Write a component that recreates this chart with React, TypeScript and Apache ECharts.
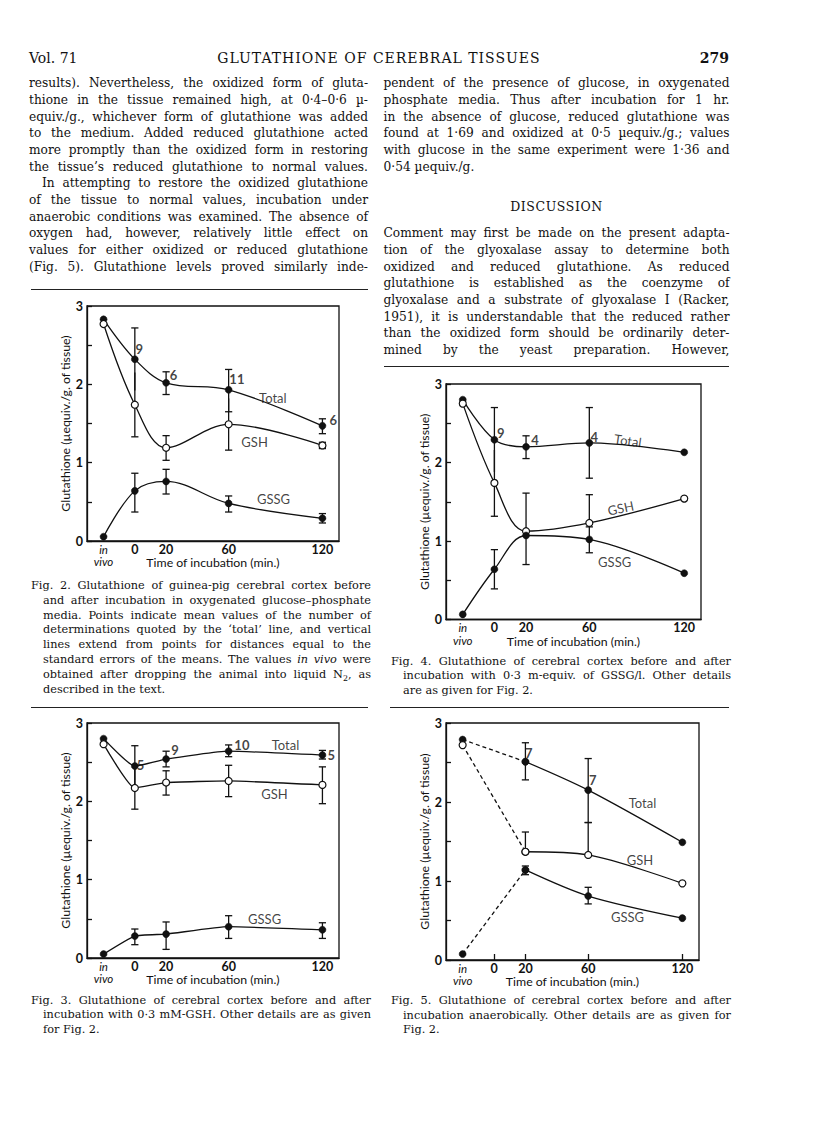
import React, { useEffect, useRef } from "react";
import * as echarts from "echarts";

const INK = "#111";
const SANS = "Lato, 'Open Sans', sans-serif";
const SERIF = "'DejaVu Serif', serif";

// ---------- data ----------
const TIMES = [-20, 0, 20, 60, 120]; // -20 = "in vivo"
const X_LABEL_VALUES = [-20, 0, 20, 60, 120];
const X_TICK_VALUES = [0, 20, 60, 120];
const X_NAME = "Time of incubation (min.)";
const Y_NAME = "Glutathione (µequiv./g. of tissue)";

// Fig. 2
const fig2Total = [2.83, 2.32, 2.02, 1.93, 1.47];
const fig2GSH = [2.77, 1.74, 1.19, 1.49, 1.22];
const fig2GSSG = [0.055, 0.64, 0.76, 0.48, 0.29];
// [time, low, high, capLow, capHigh]
const fig2Err = [
  [0, 1.92, 2.72, 0, 1], [20, 1.87, 2.16, 1, 1], [60, 1.65, 2.19, 1, 1], [120, 1.37, 1.56, 1, 1],
  [0, 1.33, 2.15, 1, 0], [20, 1.03, 1.345, 1, 1], [60, 1.16, 1.82, 1, 0], [120, 1.18, 1.26, 1, 1],
  [0, 0.37, 0.865, 1, 1], [20, 0.6, 0.915, 1, 1], [60, 0.37, 0.575, 1, 1], [120, 0.23, 0.35, 1, 1],
];
const fig2Notes = [
  [2.8, 2.45, "9"], [24.8, 2.12, "6"], [65.3, 2.065, "11"], [127, 1.55, "6"],
  [88.3, 1.82, "Total"], [76.6, 1.27, "GSH"], [88.7, 0.53, "GSSG"],
];

// Fig. 3
const fig3Total = [2.8, 2.45, 2.54, 2.64, 2.59];
const fig3GSH = [2.73, 2.17, 2.24, 2.26, 2.21];
const fig3GSSG = [0.05, 0.28, 0.305, 0.4, 0.36];
const fig3Err = [
  [0, 2.19, 2.71, 0, 1], [20, 2.44, 2.64, 1, 1], [60, 2.57, 2.72, 1, 1], [120, 2.54, 2.65, 1, 1],
  [0, 1.9, 2.44, 1, 0], [20, 2.08, 2.39, 1, 1], [60, 2.06, 2.46, 1, 1], [120, 1.97, 2.44, 1, 1],
  [0, 0.17, 0.37, 1, 1], [20, 0.11, 0.46, 1, 1], [60, 0.25, 0.54, 1, 1], [120, 0.25, 0.45, 1, 1],
];
const fig3Notes = [
  [3.6, 2.46, "5"], [25.7, 2.65, "9"], [68.5, 2.72, "10"], [125.7, 2.59, "5"],
  [96.4, 2.72, "Total"], [89.3, 2.09, "GSH"], [83, 0.5, "GSSG"],
];

// Fig. 4
const fig4Total = [2.8, 2.29, 2.2, 2.25, 2.13];
const fig4GSH = [2.75, 1.74, 1.125, 1.23, 1.54];
const fig4GSSG = [0.065, 0.64, 1.07, 1.02, 0.59];
const fig4Err = [
  [0, 1.88, 2.7, 0, 1], [20, 2.05, 2.34, 1, 1], [60, 1.8, 2.7, 1, 1],
  [0, 1.315, 2.16, 1, 0], [20, 0.7, 1.61, 1, 1], [60, 1.23, 1.59, 0, 1],
  [0, 0.39, 0.89, 1, 1], [60, 0.85, 1.18, 1, 1],
];
const fig4Notes = [
  [4, 2.37, "9"], [25.6, 2.29, "4"], [63.2, 2.33, "4"],
  [84.4, 2.28, "Total", -8], [79.8, 1.42, "GSH", 12], [76, 0.73, "GSSG"],
];

// Fig. 5 (anaerobic) – dashed from in vivo to 20 min
const fig5Times = [-20, 20, 60, 120];
const fig5Total = [2.79, 2.51, 2.15, 1.49];
const fig5GSH = [2.72, 1.37, 1.33, 0.97];
const fig5GSSG = [0.075, 1.14, 0.81, 0.53];
const fig5Err = [
  [20, 2.28, 2.75, 1, 1], [60, 1.74, 2.55, 1, 1],
  [20, 1.37, 1.62, 0, 1], [60, 1.33, 1.74, 0, 1],
  [20, 1.08, 1.19, 1, 1], [60, 0.71, 0.92, 1, 1],
];
const fig5Notes = [
  [22.2, 2.62, "7"], [62.9, 2.28, "7"],
  [94.6, 1.99, "Total"], [93, 1.27, "GSH"], [85, 0.55, "GSSG"],
];

// ---------- page text ----------
const leftBody = [
  "results). Nevertheless, the oxidized form of gluta-",
  "thione in the tissue remained high, at 0·4–0·6 µ-",
  "equiv./g., whichever form of glutathione was added",
  "to the medium. Added reduced glutathione acted",
  "more promptly than the oxidized form in restoring",
  "the tissue’s reduced glutathione to normal values.",
  "In attempting to restore the oxidized glutathione",
  "of the tissue to normal values, incubation under",
  "anaerobic conditions was examined. The absence of",
  "oxygen had, however, relatively little effect on",
  "values for either oxidized or reduced glutathione",
  "(Fig. 5). Glutathione levels proved similarly inde-",
];
const rightBody1 = [
  "pendent of the presence of glucose, in oxygenated",
  "phosphate media. Thus after incubation for 1 hr.",
  "in the absence of glucose, reduced glutathione was",
  "found at 1·69 and oxidized at 0·5 µequiv./g.; values",
  "with glucose in the same experiment were 1·36 and",
  "0·54 µequiv./g.",
];
const rightBody2 = [
  "Comment may first be made on the present adapta-",
  "tion of the glyoxalase assay to determine both",
  "oxidized and reduced glutathione. As reduced",
  "glutathione is established as the coenzyme of",
  "glyoxalase and a substrate of glyoxalase I (Racker,",
  "1951), it is understandable that the reduced rather",
  "than the oxidized form should be ordinarily deter-",
  "mined by the yeast preparation. However,",
];
const cap2 = [
  "Fig. 2. Glutathione of guinea-pig cerebral cortex before",
  "and after incubation in oxygenated glucose–phosphate",
  "media. Points indicate mean values of the number of",
  "determinations quoted by the ‘total’ line, and vertical",
  "lines extend from points for distances equal to the",
  "standard errors of the means. The values <i>in vivo</i> were",
  "obtained after dropping the animal into liquid N<sub style='font-size:70%'>2</sub>, as",
  "described in the text.",
];
const cap3 = [
  "Fig. 3. Glutathione of cerebral cortex before and after",
  "incubation with 0·3 mM-GSH. Other details are as given",
  "for Fig. 2.",
];
const cap4 = [
  "Fig. 4. Glutathione of cerebral cortex before and after",
  "incubation with 0·3 m-equiv. of GSSG/l. Other details",
  "are as given for Fig. 2.",
];
const cap5 = [
  "Fig. 5. Glutathione of cerebral cortex before and after",
  "incubation anaerobically. Other details are as given for",
  "Fig. 2.",
];

// ---------- chart builders ----------
const GRIDS = [
  { left: 87, top: 306, width: 252, height: 235 },
  { left: 87, top: 723, width: 252, height: 235 },
  { left: 446, top: 384, width: 255, height: 235.5 },
  { left: 446, top: 723, width: 253, height: 237 },
];

function lineSeries(gi: number, xs: number[], ys: number[], open: boolean, smooth: number | boolean, dashed = false) {
  return {
    type: "line",
    xAxisIndex: gi,
    yAxisIndex: gi,
    data: xs.map((x, i) => [x, ys[i]]),
    smooth,
    symbol: "circle",
    symbolSize: 7,
    showSymbol: true,
    silent: true,
    z: 3,
    lineStyle: { color: INK, width: 1.3, type: dashed ? [4, 3] : "solid" },
    itemStyle: open
      ? { color: "#fff", borderColor: INK, borderWidth: 1.2 }
      : { color: INK, borderColor: INK, borderWidth: 0.5 },
  };
}

function errSeries(gi: number, err: number[][]) {
  return {
    type: "custom",
    xAxisIndex: gi,
    yAxisIndex: gi,
    data: err,
    encode: { x: 0, y: [1, 2] },
    silent: true,
    z: 2,
    renderItem: (params: any, api: any) => {
      const x = api.value(0);
      const a = api.coord([x, api.value(1)]);
      const b = api.coord([x, api.value(2)]);
      const st = { stroke: INK, lineWidth: 1.3 };
      const hw = 3.6;
      const children: any[] = [
        { type: "line", shape: { x1: a[0], y1: a[1], x2: b[0], y2: b[1] }, style: st },
      ];
      if (api.value(3)) children.push({ type: "line", shape: { x1: a[0] - hw, y1: a[1], x2: a[0] + hw, y2: a[1] }, style: st });
      if (api.value(4)) children.push({ type: "line", shape: { x1: b[0] - hw, y1: b[1], x2: b[0] + hw, y2: b[1] }, style: st });
      return { type: "group", children };
    },
  };
}

function noteSeries(gi: number, notes: any[]) {
  return {
    type: "scatter",
    xAxisIndex: gi,
    yAxisIndex: gi,
    symbolSize: 1,
    silent: true,
    z: 4,
    itemStyle: { color: "rgba(0,0,0,0)" },
    label: { show: true, position: "inside", color: INK, fontFamily: SANS, fontSize: 13 },
    data: notes.map((n) => ({
      value: [n[0], n[1]],
      label: {
        formatter: String(n[2]),
        rotate: n[3] || 0,
        fontWeight: /^\d+$/.test(String(n[2])) ? "bold" : "normal",
        fontSize: 13,
      },
    })),
  };
}

function xAxis(gi: number, ticks: boolean) {
  return {
    type: "value",
    gridIndex: gi,
    min: -30.6,
    max: 130.6,
    axisLine: { show: true, onZero: false, lineStyle: { color: INK, width: 1.3 } },
    axisTick: { show: ticks, inside: true, length: 6, customValues: X_TICK_VALUES, lineStyle: { color: INK, width: 1.3 } },
    splitLine: { show: false },
    axisLabel: {
      customValues: X_LABEL_VALUES,
      margin: 2,
      color: INK,
      fontFamily: SANS,
      fontSize: 12.5,
      lineHeight: 12,
      fontWeight: "bold",
      hideOverlap: false,
      formatter: (v: number) => (v === -20 ? "{it|in}\n{it|vivo}" : String(v)),
      rich: { it: { fontStyle: "italic", fontFamily: SANS, fontSize: 11.5, lineHeight: 12.5, color: INK, fontWeight: "normal" } },
    },
    name: X_NAME,
    nameLocation: "middle",
    nameGap: 15.5,
    nameMoveOverlap: false,
    nameTextStyle: { color: INK, fontFamily: SANS, fontSize: 12.3, lineHeight: 12 },
  };
}

function yAxis(gi: number) {
  return {
    type: "value",
    gridIndex: gi,
    min: 0,
    max: 3,
    interval: 0.5,
    axisLine: { show: true, onZero: false, lineStyle: { color: INK, width: 1.3 } },
    axisTick: { show: true, inside: true, length: 5, lineStyle: { color: INK, width: 1.3 } },
    splitLine: { show: false },
    axisLabel: {
      margin: 4,
      color: INK,
      fontFamily: SANS,
      fontSize: 12.5,
      fontWeight: "bold",
      formatter: (v: number) => (Math.abs(v - Math.round(v)) < 1e-6 ? String(Math.round(v)) : ""),
    },
    name: Y_NAME,
    nameLocation: "middle",
    nameGap: 16,
    nameMoveOverlap: false,
    nameTextStyle: { color: INK, fontFamily: SANS, fontSize: 12.3 },
  };
}

function buildOption() {
  const series: any[] = [];
  const figs = [
    { t: fig2Total, g: fig2GSH, s: fig2GSSG, e: fig2Err, n: fig2Notes, sm: 0.35 },
    { t: fig3Total, g: fig3GSH, s: fig3GSSG, e: fig3Err, n: fig3Notes, sm: 0.15 },
    { t: fig4Total, g: fig4GSH, s: fig4GSSG, e: fig4Err, n: fig4Notes, sm: 0.35 },
  ];
  figs.forEach((f, gi) => {
    series.push(errSeries(gi, f.e));
    series.push(lineSeries(gi, TIMES, f.t, false, f.sm));
    series.push(lineSeries(gi, TIMES, f.g, true, f.sm));
    series.push(lineSeries(gi, TIMES, f.s, false, f.sm));
    series.push(noteSeries(gi, f.n));
  });
  // Fig 5
  const gi = 3;
  series.push(errSeries(gi, fig5Err));
  [
    [fig5Total, false],
    [fig5GSH, true],
    [fig5GSSG, false],
  ].forEach(([vals, open]: any) => {
    series.push(lineSeries(gi, fig5Times.slice(0, 2), vals.slice(0, 2), open, false, true));
    series.push(lineSeries(gi, fig5Times.slice(1), vals.slice(1), open, 0.3));
  });
  series.push(noteSeries(gi, fig5Notes));

  return {
    animation: false,
    backgroundColor: "transparent",
    grid: GRIDS.map((g) => ({ ...g, show: true, borderColor: INK, borderWidth: 1.3, containLabel: false })),
    xAxis: [xAxis(0, false), xAxis(1, false), xAxis(2, false), xAxis(3, true)],
    yAxis: [yAxis(0), yAxis(1), yAxis(2), yAxis(3)],
    series,
  };
}

// ---------- text helpers ----------
function Line(props: { html: string; left: number; width: number; y: number; fs: number; justify?: boolean; style?: any }) {
  const lh = 16;
  return (
    <div
      style={{
        position: "absolute",
        left: props.left,
        top: props.y - lh / 2,
        width: props.width,
        height: lh,
        lineHeight: lh + "px",
        fontFamily: SERIF,
        fontSize: props.fs,
        color: "#111",
        whiteSpace: "nowrap",
        textAlign: props.justify ? "justify" : "left",
        textAlignLast: props.justify ? "justify" : "left",
        ...(props.style || {}),
      } as any}
      dangerouslySetInnerHTML={{ __html: props.html }}
    />
  );
}

function Block(lines: string[], left: number, width: number, y0: number, step: number, fs: number, opts: { indentFirst?: number; hang?: number; lastFree?: boolean; key: string }) {
  return lines.map((t, i) => {
    let l = left;
    let w = width;
    if (i === 0 && opts.indentFirst) { l += opts.indentFirst; w -= opts.indentFirst; }
    if (i > 0 && opts.hang) { l += opts.hang; w -= opts.hang; }
    const justify = !(opts.lastFree && i === lines.length - 1);
    return <Line key={opts.key + i} html={t} left={l} width={w} y={y0 + i * step} fs={fs} justify={justify} />;
  });
}

function Rule(props: { x1: number; x2: number; y: number }) {
  return <div style={{ position: "absolute", left: props.x1, top: props.y, width: props.x2 - props.x1, height: 1.3, background: "#222" }} />;
}

export default function App() {
  const ref = useRef<HTMLDivElement>(null);
  useEffect(() => {
    if (!ref.current) return;
    const chart = echarts.init(ref.current, undefined, { renderer: "svg" });
    chart.setOption(buildOption() as any);
    return () => chart.dispose();
  }, []);

  const BODY_FS = 12.2;
  const CAP_FS = 11.3;
  const STEP = 16.67;
  const L0 = 29, LW = 339;
  const R0 = 383.5, RW = 346;

  return (
    <div style={{ position: "absolute", left: 0, top: 0, width: 816, height: 1138, background: "#fff", overflow: "hidden" }}>
      <div ref={ref} style={{ position: "absolute", left: 0, top: 0, width: 816, height: 1138 }} />
      {/* header */}
      <Line html="Vol. 71" left={L0} width={80} y={57.5} fs={14} />
      <Line html="GLUTATHIONE OF CEREBRAL TISSUES" left={179} width={400} y={57.5} fs={14} style={{ textAlign: "center", textAlignLast: "center", letterSpacing: "1px" }} />
      <Line html="279" left={629} width={100} y={57.5} fs={14} style={{ textAlign: "right", textAlignLast: "right", fontWeight: "bold" }} />

      {/* left column body */}
      {Block(leftBody.slice(0, 6), L0, LW, 83.3, STEP, BODY_FS, { key: "lb1" })}
      {Block(leftBody.slice(6), L0, LW, 83.3 + 6 * STEP, STEP, BODY_FS, { key: "lb2", indentFirst: 13 })}
      <Rule x1={31} x2={368} y={288.5} />

      {/* right column body */}
      {Block(rightBody1, R0, RW, 83.3, STEP, BODY_FS, { key: "rb1", lastFree: true })}
      <Line html="DISCUSSION" left={R0} width={RW} y={207} fs={12.5} style={{ textAlign: "center", textAlignLast: "center", letterSpacing: "0.6px" }} />
      {Block(rightBody2, R0, RW, 233.3, STEP, BODY_FS, { key: "rb2" })}
      <Rule x1={384} x2={729} y={366.2} />

      {/* captions */}
      {Block(cap2, 31, 340, 586, 14.8, CAP_FS, { key: "c2", hang: 12, lastFree: true })}
      <Rule x1={31} x2={368} y={706.5} />
      {Block(cap4, 391, 340, 661.7, 14.4, CAP_FS, { key: "c4", hang: 12, lastFree: true })}
      <Rule x1={390} x2={729} y={707} />
      {Block(cap3, 31, 340, 1000.5, 14.5, CAP_FS, { key: "c3", hang: 12, lastFree: true })}
      {Block(cap5, 391, 340, 1001, 14.5, CAP_FS, { key: "c5", hang: 12, lastFree: true })}
    </div>
  );
}
